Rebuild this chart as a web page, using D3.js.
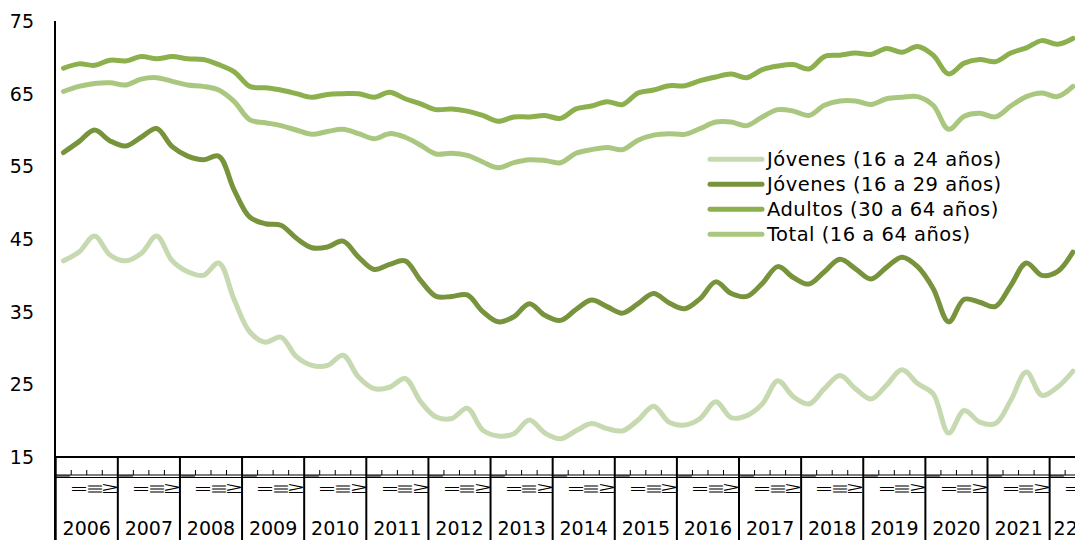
<!DOCTYPE html>
<html><head><meta charset="utf-8">
<script src="https://cdn.jsdelivr.net/npm/d3@7"></script>
<style>html,body{margin:0;padding:0;background:#fff;overflow:hidden}</style>
</head><body>
<svg id="c" width="1075" height="540"></svg>
<script>
const years = ["2006","2007","2008","2009","2010","2011","2012","2013","2014","2015","2016","2017","2018","2019","2020","2021","22"];
const quarters = ["I","II","III","IV"];
const yTicks = [15,25,35,45,55,65,75];
const seriesNames = ["Jóvenes (16 a 24 años)","Jóvenes (16 a 29 años)","Adultos (30 a 64 años)","Total (16 a 64 años)"];
const jovenes24 = [42.0,43.2,45.4,42.8,42.0,43.0,45.4,42.0,40.5,40.0,
41.7,36.6,32.2,30.8,31.5,28.8,27.6,27.6,29.0,26.0,
24.4,24.6,25.8,22.6,20.5,20.3,21.7,18.7,17.9,18.2,
20.1,18.3,17.5,18.6,19.6,18.9,18.6,20.1,22.0,19.8,
19.4,20.3,22.6,20.4,20.7,22.3,25.5,23.3,22.3,24.4,
26.2,24.4,23.0,24.9,27.0,25.1,23.7,18.3,21.4,19.8,
19.6,22.8,26.7,23.5,24.6,26.8];
const jovenes29 = [56.9,58.4,60.0,58.5,57.8,59.0,60.2,57.7,56.4,55.9,
56.4,51.7,48.0,47.1,46.9,45.1,43.8,43.9,44.7,42.5,
40.8,41.5,42.0,39.3,37.1,37.1,37.3,35.0,33.6,34.3,
36.1,34.5,33.8,35.3,36.6,35.7,34.8,36.1,37.5,36.2,
35.4,36.8,39.1,37.5,37.1,38.9,41.2,39.7,38.8,40.5,
42.2,40.9,39.5,41.1,42.5,41.2,38.2,33.6,36.7,36.3,
35.7,38.6,41.7,40.0,40.5,43.2];
const adultos = [68.5,69.1,68.9,69.6,69.5,70.1,69.8,70.1,69.8,69.7,
69.0,68.0,66.0,65.8,65.5,65.0,64.5,64.9,65.0,65.0,
64.5,65.2,64.3,63.6,62.8,62.9,62.6,62.0,61.2,61.8,
61.8,62.0,61.6,62.9,63.3,63.9,63.5,65.1,65.5,66.1,
66.1,66.8,67.3,67.7,67.2,68.3,68.8,69.0,68.4,70.1,
70.3,70.6,70.4,71.2,70.7,71.5,70.3,67.7,69.2,69.7,
69.4,70.6,71.3,72.3,71.8,72.6];
const total = [65.3,66.0,66.4,66.5,66.2,67.0,67.2,66.7,66.2,66.0,
65.5,63.9,61.4,61.0,60.6,60.0,59.4,59.8,60.1,59.5,
58.8,59.5,59.0,57.9,56.7,56.8,56.5,55.6,54.8,55.5,
55.9,55.8,55.5,56.8,57.3,57.6,57.3,58.6,59.3,59.5,
59.4,60.2,61.1,61.1,60.6,61.8,62.8,62.6,62.0,63.4,
64.0,64.0,63.5,64.3,64.5,64.6,63.4,60.1,61.9,62.3,
61.8,63.3,64.6,65.1,64.6,66.0];

const colors = ["#c6d9b0","#77933c","#8db04e","#aac77f"];
const seriesData = [jovenes24, jovenes29, adultos, total];
const FONT = "'DejaVu Sans', sans-serif";

const svg = d3.select("#c");
const nQ = years.length * 4;
const nData = jovenes24.length;
const x0 = 55.7, qw = 15.53;
const x = d3.scaleLinear().domain([0, nQ]).range([x0, x0 + nQ * qw]);
const y = d3.scaleLinear().domain([15, 75]).range([457, 21]);

// y axis labels
svg.append("g").selectAll("text").data(yTicks).join("text")
  .attr("x", 34).attr("y", d => y(d)).attr("dy", "0.36em")
  .attr("text-anchor", "end").attr("font-family", FONT).attr("font-size", 19)
  .attr("fill", "#000").text(d => d);

// lines
const line = d3.line().x((d, i) => x(i + 0.5)).y(d => y(d)).curve(d3.curveCatmullRom.alpha(0.5));
svg.append("g").selectAll("path").data(seriesData).join("path")
  .attr("d", d => line(d)).attr("fill", "none")
  .attr("stroke", (d, i) => colors[i]).attr("stroke-width", 5)
  .attr("stroke-linecap", "round").attr("stroke-linejoin", "round");

// category axis
const ax = svg.append("g");
ax.append("line").attr("x1", 55).attr("x2", 1075).attr("y1", y(15)).attr("y2", y(15)).attr("stroke", "#000").attr("stroke-width", 2);
ax.append("line").attr("x1", 55).attr("x2", 1075).attr("y1", 475).attr("y2", 475).attr("stroke", "#000").attr("stroke-width", 1);
ax.append("line").attr("x1", 55).attr("x2", 1075).attr("y1", 477.5).attr("y2", 477.5).attr("stroke", "#000").attr("stroke-width", 1);
// quarter ticks
const qIdx = d3.range(nQ).filter(i => i % 4 !== 0);
ax.selectAll("line.qt").data(qIdx).join("line").attr("class", "qt")
  .attr("x1", d => x(d)).attr("x2", d => x(d)).attr("y1", 470).attr("y2", 475)
  .attr("stroke", "#000").attr("stroke-width", 1);
// quarter labels (rotated, compressed)
ax.selectAll("text.ql").data(d3.range(nData)).join("text").attr("class", "ql")
  .attr("transform", d => d % 4 === 0
      ? `translate(${x(d + 0.5) + 7},476) rotate(-90) scale(0.55,1)`
      : `translate(${x(d + 0.5) + 7},489) rotate(-90) scale(0.55,1)`)
  .attr("text-anchor", "middle").attr("font-family", FONT).attr("font-size", 19)
  .attr("fill", "#000").text(d => quarters[d % 4]);
// year separators
ax.selectAll("line.ys").data(d3.range(years.length + 1)).join("line").attr("class", "ys")
  .attr("x1", d => x(d * 4)).attr("x2", d => x(d * 4)).attr("y1", y(15)).attr("y2", 540)
  .attr("stroke", "#000").attr("stroke-width", 2);
// y axis line
ax.append("line").attr("x1", 55).attr("x2", 55).attr("y1", y(75)).attr("y2", 540).attr("stroke", "#000").attr("stroke-width", 2);
// year labels
ax.selectAll("text.yl").data(years).join("text").attr("class", "yl")
  .attr("x", (d, i) => d.length > 2 ? x(i * 4 + 2) : x(i * 4) + 4)
  .attr("y", 535).attr("text-anchor", (d) => d.length > 2 ? "middle" : "start")
  .attr("font-family", FONT).attr("font-size", 19).attr("fill", "#000").text(d => d);

// legend
const lg = svg.append("g");
const lgY = [159.3, 184.3, 209.3, 234.3];
seriesNames.forEach((n, i) => {
  lg.append("line").attr("x1", 710).attr("x2", 762).attr("y1", lgY[i]).attr("y2", lgY[i])
    .attr("stroke", colors[i]).attr("stroke-width", 5).attr("stroke-linecap", "round");
  lg.append("text").attr("x", 767).attr("y", lgY[i]).attr("dy", "0.36em")
    .attr("font-family", FONT).attr("font-size", 19.5).attr("letter-spacing", 0.5)
    .attr("fill", "#000").text(n);
});
</script>
</body></html>
